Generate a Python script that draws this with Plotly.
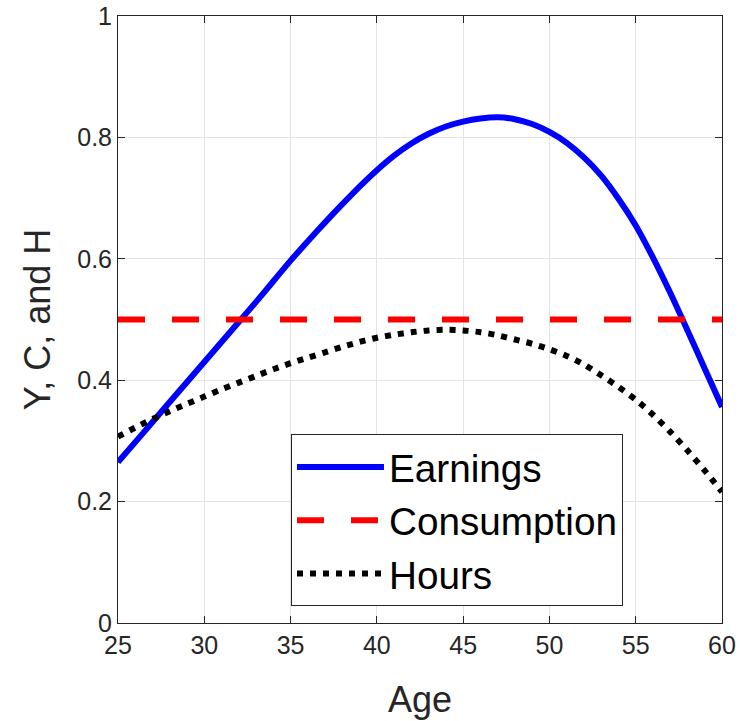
import plotly.graph_objects as go

ages = list(range(25, 61))
earnings = [0.265, 0.298, 0.331, 0.364, 0.397, 0.430, 0.463, 0.496, 0.529, 0.563,
            0.597, 0.629, 0.660, 0.690, 0.719, 0.746, 0.770, 0.790, 0.806, 0.818,
            0.826, 0.831, 0.833, 0.830, 0.822, 0.809, 0.791, 0.767, 0.737, 0.699,
            0.655, 0.602, 0.544, 0.482, 0.419, 0.356]
consumption = [0.5] * len(ages)
hours = [0.307, 0.322, 0.336, 0.349, 0.361, 0.373, 0.385, 0.396, 0.407, 0.418,
         0.428, 0.437, 0.446, 0.455, 0.463, 0.470, 0.475, 0.479, 0.482, 0.483,
         0.482, 0.479, 0.474, 0.467, 0.460, 0.451, 0.440, 0.426, 0.408, 0.389,
         0.368, 0.343, 0.315, 0.284, 0.251, 0.216]
x_ticks = [25, 30, 35, 40, 45, 50, 55, 60]
y_ticks = [0, 0.2, 0.4, 0.6, 0.8, 1]
y_tick_labels = ["0", "0.2", "0.4", "0.6", "0.8", "1"]

FONT = "Liberation Sans, Arial, Helvetica, sans-serif"
AX = "#262626"

fig = go.Figure()
fig.add_trace(go.Scatter(x=ages, y=earnings, mode="lines", name="Earnings",
                         line=dict(color="#0000ff", width=6, shape="spline", smoothing=0.8)))
fig.add_trace(go.Scatter(x=ages, y=consumption, mode="lines", name="Consumption",
                         line=dict(color="#ff0000", width=6, dash="27px,27px")))
fig.add_trace(go.Scatter(x=ages, y=hours, mode="lines", name="Hours",
                         line=dict(color="#000000", width=6, dash="6px,7px",
                                   shape="spline", smoothing=0.8)))

axis_common = dict(showline=True, linecolor=AX, linewidth=1, mirror="ticks",
                   ticks="inside", ticklen=7, tickcolor=AX, tickwidth=1,
                   showgrid=True, gridcolor="#e3e3e3", gridwidth=1,
                   zeroline=False, automargin=False, ticklabeloverflow="allow",
                   tickfont=dict(family=FONT, size=25, color=AX))

fig.update_xaxes(range=[25, 60], tickvals=x_ticks, **axis_common)
fig.update_yaxes(range=[0, 1], tickvals=y_ticks, ticktext=y_tick_labels,
                 title=dict(text="Y, C, and H", font=dict(family=FONT, size=36, color=AX)),
                 **axis_common)

fig.add_annotation(text="Age", xref="paper", yref="paper", x=0.5, y=-0.089,
                   xanchor="center", yanchor="top", showarrow=False,
                   font=dict(family=FONT, size=36, color=AX))

fig.update_layout(
    width=740, height=721,
    margin=dict(l=118, r=18, t=16, b=98),
    plot_bgcolor="white", paper_bgcolor="white",
    font=dict(family=FONT, color=AX),
    legend=dict(x=0.2864, y=0.311, xanchor="left", yanchor="top",
                bgcolor="white", bordercolor=AX, borderwidth=1,
                font=dict(family=FONT, size=38.7, color="black"),
                itemwidth=87, tracegroupgap=0),
    showlegend=True,
)

fig.write_html("out.html", config={"displayModeBar": False},
               post_script="document.body.style.margin='0';document.body.style.overflow='hidden';")
